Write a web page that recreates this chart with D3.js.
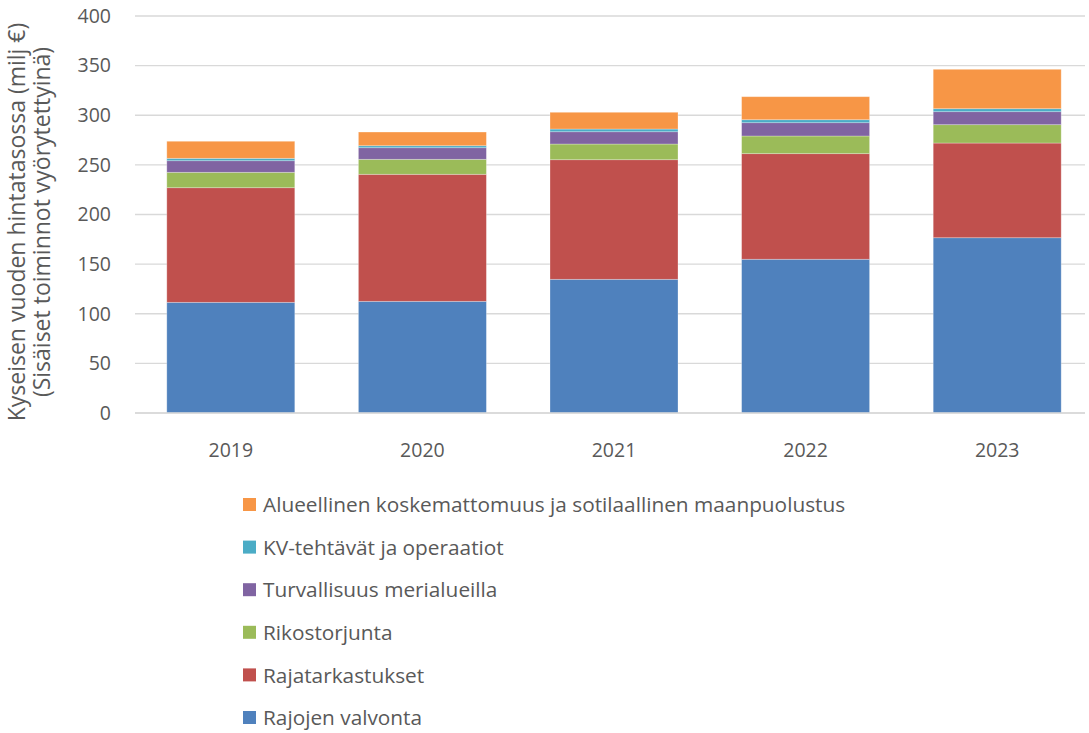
<!DOCTYPE html>
<html>
<head>
<meta charset="utf-8">
<script src="https://cdn.jsdelivr.net/npm/d3@7"></script>
<style>
  body { margin: 0; background: #fff; }
  text { font-family: "Open Sans", "Noto Sans", sans-serif; fill: #595959; }
</style>
</head>
<body>
<svg id="chart" width="1089" height="733"></svg>
<script>
// years on the x axis
const years = ["2019", "2020", "2021", "2022", "2023"];

// series values (milj €), bottom to top of the stack
const rajojenValvonta = [111.5, 112.5, 134.7, 154.9, 176.6];
const rajatarkastukset = [115.5, 128.0, 120.5, 106.4, 95.4];
const rikostorjunta = [15.5, 15.1, 15.8, 17.8, 18.5];
const turvallisuusMeri = [11.7, 11.7, 12.4, 13.4, 13.1];
const kvTehtavat = [2.4, 2.0, 2.7, 3.0, 3.0];
const alueellinen = [17.2, 13.8, 16.9, 23.2, 39.7];

const seriesNames = [
  "Rajojen valvonta",
  "Rajatarkastukset",
  "Rikostorjunta",
  "Turvallisuus merialueilla",
  "KV-tehtävät ja operaatiot",
  "Alueellinen koskemattomuus ja sotilaallinen maanpuolustus"
];
const seriesValues = [rajojenValvonta, rajatarkastukset, rikostorjunta, turvallisuusMeri, kvTehtavat, alueellinen];
const colors = ["#4F81BD", "#C0504D", "#9BBB59", "#8064A2", "#4BACC6", "#F79646"];
const yTicks = [0, 50, 100, 150, 200, 250, 300, 350, 400];

const svg = d3.select("#chart");
const plot = { left: 135, right: 1093, top: 16, bottom: 413 };

// build rows for the stack layout
const rows = years.map((y, i) => {
  const r = { year: y };
  seriesNames.forEach((s, k) => { r[s] = seriesValues[k][i]; });
  return r;
});
const stacked = d3.stack().keys(seriesNames)(rows);

const x = d3.scaleBand()
  .domain(years)
  .range([plot.left, plot.right])
  .paddingInner(0.332)
  .paddingOuter(0.166);

const y = d3.scaleLinear()
  .domain([0, 400])
  .range([plot.bottom, plot.top]);

const color = d3.scaleOrdinal().domain(seriesNames).range(colors);

// gridlines
svg.append("g")
  .selectAll("line")
  .data(yTicks)
  .enter()
  .append("line")
  .attr("x1", plot.left)
  .attr("x2", plot.right - 8)
  .attr("y1", d => y(d))
  .attr("y2", d => y(d))
  .attr("stroke", "#d9d9d9")
  .attr("stroke-width", 1.3);

// y tick labels
svg.append("g")
  .selectAll("text")
  .data(yTicks)
  .enter()
  .append("text")
  .attr("x", 111)
  .attr("y", d => y(d))
  .attr("dy", "0.35em")
  .attr("text-anchor", "end")
  .style("font-size", "19.5px")
  .text(d => d);

// bars
svg.append("g")
  .selectAll("g")
  .data(stacked)
  .enter()
  .append("g")
  .attr("fill", d => color(d.key))
  .selectAll("rect")
  .data(d => d)
  .enter()
  .append("rect")
  .attr("x", d => x(d.data.year))
  .attr("width", x.bandwidth())
  .attr("y", d => y(d[1]))
  .attr("height", d => y(d[0]) - y(d[1]))
  .attr("stroke", "rgba(255,255,255,0.35)")
  .attr("stroke-width", 0.8);

// x axis line
svg.append("line")
  .attr("x1", plot.left)
  .attr("x2", plot.right - 8)
  .attr("y1", plot.bottom)
  .attr("y2", plot.bottom)
  .attr("stroke", "#d9d9d9")
  .attr("stroke-width", 1.3);

// x labels
svg.append("g")
  .selectAll("text")
  .data(years)
  .enter()
  .append("text")
  .attr("x", d => x(d) + x.bandwidth() / 2)
  .attr("y", 450)
  .attr("dy", "0.35em")
  .attr("text-anchor", "middle")
  .style("font-size", "19.5px")
  .text(d => d);

// y axis title, two lines
const yTitle = svg.append("text")
  .attr("transform", "translate(30,222) rotate(-90)")
  .attr("text-anchor", "middle")
  .style("font-size", "23px");
yTitle.append("tspan").attr("x", 0).attr("dy", "-0.22em").text("Kyseisen vuoden hintatasossa (milj €)");
yTitle.append("tspan").attr("x", 0).attr("dy", "1.07em").text("(Sisäiset toiminnot vyörytettyinä)");

// legend, top item is the top of the stack
const legendVals = seriesNames.slice().reverse();
const legend = svg.append("g")
  .selectAll("g")
  .data(legendVals)
  .enter()
  .append("g")
  .attr("transform", (d, i) => "translate(243," + (505 + i * 42.6) + ")");

legend.append("rect")
  .attr("x", 0)
  .attr("y", -7)
  .attr("width", 13)
  .attr("height", 13)
  .attr("fill", d => color(d));

legend.append("text")
  .attr("x", 20)
  .attr("y", 0)
  .attr("dy", "0.35em")
  .style("font-size", "20.8px")
  .text(d => d);
</script>
</body>
</html>
